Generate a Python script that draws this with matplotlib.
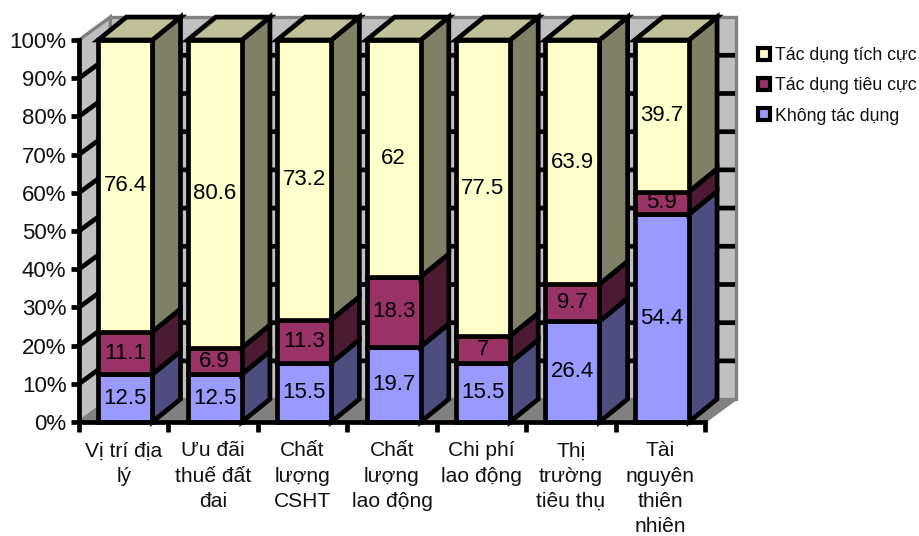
import matplotlib
matplotlib.use("Agg")
import matplotlib.pyplot as plt
from matplotlib.lines import Line2D
from matplotlib.patches import Polygon

plt.rcParams["font.family"] = ["Liberation Sans", "DejaVu Sans"]

# ========================================
# data
# ========================================
categories = [
    "Vị trí địa\nlý",
    "Ưu đãi\nthuế đất\nđai",
    "Chất\nlượng\nCSHT",
    "Chất\nlượng\nlao động",
    "Chi phí\nlao động",
    "Thị\ntrường\ntiêu thụ",
    "Tài\nnguyên\nthiên\nnhiên",
]
khong_tac_dung = [12.5, 12.5, 15.5, 19.7, 15.5, 26.4, 54.4]
tieu_cuc = [11.1, 6.9, 11.3, 18.3, 7, 9.7, 5.9]
tich_cuc = [76.4, 80.6, 73.2, 62, 77.5, 63.9, 39.7]
series_names = ["Không tác dụng", "Tác dụng tiêu cực", "Tác dụng tích cực"]
y_ticks = [0, 10, 20, 30, 40, 50, 60, 70, 80, 90, 100]

# ========================================
# colours and 3d look
# ========================================
FRONT = ["#9999FF", "#993366", "#FFFFCC"]
SIDE = ["#4D4D80", "#4D1A33", "#808066"]
TOP = "#C0C099"
WALL = "#C0C0C0"
EDGE = "#808080"

LW = 3.4
WALL_DX = 0.35
WALL_DY = 6.0
BAR_DX = 0.315
BAR_DY = 6.0
BAR_LEFT = 0.215
BAR_W = 0.605

W, H = 920, 536
fig = plt.figure(figsize=(W / 100, H / 100), dpi=100)
ax = fig.add_axes([79 / W, (H - 422) / H, 626 / W, 382 / H])
ax.set_xlim(0, len(categories))
ax.set_ylim(0, 100)
ax.patch.set_visible(False)


def poly(points, face, edge="black", lw=LW, z=2):
    ax.add_patch(Polygon(points, closed=True, facecolor=face, edgecolor=edge,
                         linewidth=lw, joinstyle="miter", clip_on=False, zorder=z))


n = len(categories)

# walls and floor
poly([(0, 0), (WALL_DX, WALL_DY), (WALL_DX, 100 + WALL_DY), (0, 100)], WALL, EDGE, 2.4, 1)
poly([(WALL_DX, WALL_DY), (n + WALL_DX, WALL_DY), (n + WALL_DX, 100 + WALL_DY),
      (WALL_DX, 100 + WALL_DY)], WALL, EDGE, 2.4, 1)
poly([(0, 0), (n, 0), (n + WALL_DX, WALL_DY), (WALL_DX, WALL_DY)], EDGE, EDGE, 1.5, 1)

# grid on the walls
for t in y_ticks[1:-1]:
    ax.plot([0, WALL_DX, n + WALL_DX - 0.04], [t, t + WALL_DY, t + WALL_DY], color="black",
            lw=LW, clip_on=False, zorder=1.5, solid_joinstyle="miter")

# stacked bars, drawn left to right and bottom to top
for i in range(n):
    x0 = i + BAR_LEFT
    x1 = x0 + BAR_W
    bottom = 0
    for s, values in enumerate([khong_tac_dung, tieu_cuc, tich_cuc]):
        v = values[i]
        top = bottom + v
        poly([(x1, bottom), (x1 + BAR_DX, bottom + BAR_DY), (x1 + BAR_DX, top + BAR_DY),
              (x1, top)], SIDE[s])
        poly([(x0, bottom), (x1, bottom), (x1, top), (x0, top)], FRONT[s])
        ax.text((x0 + x1) / 2, bottom + v / 2, str(v), ha="center", va="center",
                fontsize=16, color="black", zorder=3)
        bottom = top
    poly([(x0, 100), (x1, 100), (x1 + BAR_DX, 100 + BAR_DY), (x0 + BAR_DX, 100 + BAR_DY)], TOP)

# axes
for side in ["top", "right"]:
    ax.spines[side].set_visible(False)
for side in ["left", "bottom"]:
    ax.spines[side].set_linewidth(LW)
    ax.spines[side].set_zorder(4)
    ax.spines[side].set_capstyle("projecting")

ax.set_yticks(y_ticks)
ax.set_yticklabels([f"{t}%" for t in y_ticks], fontsize=16, color="#111111")
ax.tick_params(axis="y", length=6, width=LW, pad=3)
ax.set_xticks(range(n + 1))
ax.set_xticklabels([])
ax.tick_params(axis="x", which="major", length=7, width=LW)
ax.set_xticks([i + 0.5 for i in range(n)], minor=True)
ax.set_xticklabels(categories, minor=True, fontsize=15.1, linespacing=1.41, color="#111111")
ax.tick_params(axis="x", which="minor", length=0, pad=14)

# legend
handles = [
    Line2D([], [], linestyle="none", marker="s", markersize=9, markerfacecolor=c,
           markeredgecolor="black", markeredgewidth=3)
    for c in reversed(FRONT)
]
fig.legend(handles, list(reversed(series_names)), loc="upper left",
           bbox_to_anchor=(755 / W, 1 - 47 / H), frameon=False, fontsize=12.75,
           borderpad=0, borderaxespad=0, labelspacing=0.75, handlelength=1.0,
           handletextpad=0.12, labelcolor="#111111")

fig.savefig("out.png", dpi=100)
